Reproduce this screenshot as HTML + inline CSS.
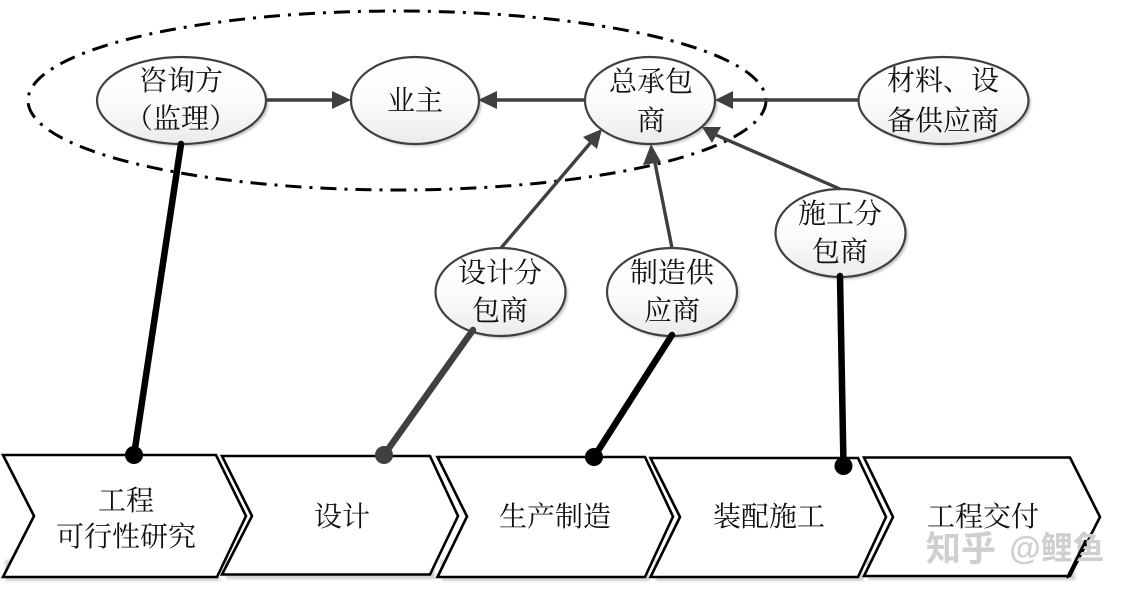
<!DOCTYPE html>
<html>
<head>
<meta charset="utf-8">
<style>
html,body{margin:0;padding:0;background:#fff;width:1133px;height:595px;overflow:hidden}
svg{display:block}
text{font-family:"Liberation Serif","Noto Serif CJK SC",serif;font-size:28px;fill:#111;text-anchor:middle}
</style>
</head>
<body>
<svg width="1133" height="595" viewBox="0 0 1133 595" xmlns="http://www.w3.org/2000/svg">
<defs>
<linearGradient id="g" x1="0" y1="0" x2="0" y2="1">
<stop offset="0" stop-color="#ffffff"/>
<stop offset="0.5" stop-color="#fcfcfc"/>
<stop offset="1" stop-color="#ebebeb"/>
</linearGradient>
<filter id="b" x="-10%" y="-10%" width="120%" height="120%"><feGaussianBlur stdDeviation="1"/></filter>
</defs>
<rect width="1133" height="595" fill="#fff"/>

<!-- chevron shadows -->
<g fill="#d2d2d2" filter="url(#b)">
<polygon points="5,560 217,560 220,581 6,581"/>
<polygon points="224,560 432,560 436,579 226,579"/>
<polygon points="440,560 646,560 650,581 442,581"/>
<polygon points="654,560 860,560 864,581 656,581"/>
<polygon points="866,560 1072,560 1076,580 868,580"/>
</g>

<!-- chevrons -->
<g fill="#fff" stroke="#000" stroke-width="2.6" stroke-linejoin="miter">
<polygon points="864,457.5 1070,457.5 1100,517 1070,576 864,576 893,517"/>
<polygon points="650.5,458 858,458 886,517 858,577 650.5,577 680,517"/>
<polygon points="437.5,457 645,457 673,516.5 645,577 437.5,577 467,516.5"/>
<polygon points="222,456 430,456 458,516 430,574.5 222,574.5 252,516"/>
<polygon points="3,455 216,455 246,516 217,577 3,577 34,516"/>
</g>

<!-- watermark -->
<text x="961" y="561" style="font-family:'Liberation Sans','Noto Sans CJK SC',sans-serif;font-size:35px;font-weight:700;fill:#cfcfcf">知乎</text>
<text x="1057" y="559" style="font-family:'Liberation Sans','Noto Sans CJK SC',sans-serif;font-size:32px;font-weight:700;fill:#cfcfcf">@鲤鱼</text>
<line x1="1086" y1="540" x2="1067" y2="578" stroke="#000" stroke-width="2.6"/>

<!-- node shadows -->
<g fill="#c8c8c8" filter="url(#b)">
<ellipse cx="184" cy="103" rx="84.5" ry="43.5"/>
<ellipse cx="417.5" cy="103" rx="64" ry="43.5"/>
<ellipse cx="652.5" cy="103" rx="65" ry="43.5"/>
<ellipse cx="946" cy="103" rx="85" ry="43.5"/>
<ellipse cx="843" cy="235.5" rx="65" ry="44"/>
<ellipse cx="503" cy="294.5" rx="65" ry="44"/>
<ellipse cx="674.5" cy="294.5" rx="65" ry="44"/>
</g>

<!-- nodes -->
<g fill="url(#g)" stroke="#404040" stroke-width="2.2">
<ellipse cx="181.5" cy="100.5" rx="84.5" ry="43.5"/>
<ellipse cx="415" cy="100.5" rx="64" ry="43.5"/>
<ellipse cx="650" cy="100.5" rx="65" ry="43.5"/>
<ellipse cx="943.5" cy="100.5" rx="85" ry="43.5"/>
<ellipse cx="840.5" cy="233" rx="65" ry="44"/>
<ellipse cx="500.5" cy="292" rx="65" ry="44"/>
<ellipse cx="672" cy="292" rx="65" ry="44"/>
</g>

<!-- big dash-dot ellipse -->
<ellipse cx="397" cy="100.5" rx="369" ry="89.5" fill="none" stroke="#000" stroke-width="3" stroke-dasharray="16 8 3 8"/>

<!-- thin arrows -->
<g stroke="#404040" stroke-width="3.4" fill="none">
<line x1="266" y1="100" x2="336" y2="100"/>
<line x1="585" y1="100" x2="494" y2="100"/>
<line x1="858" y1="100" x2="730" y2="100"/>
<line x1="501" y1="248" x2="592" y2="141"/>
<line x1="672" y1="248" x2="654" y2="158"/>
<line x1="840" y1="189" x2="716" y2="135"/>
</g>
<g fill="#404040">
<polygon points="351,100 332,91 332,109"/>
<polygon points="478,100 497,91 497,109"/>
<polygon points="715,100 733,91 733,109"/>
<polygon points="602,129 597,149 583,137"/>
<polygon points="651,144 661,162 643,165"/>
<polygon points="702,127 721,127 712,143"/>
</g>

<!-- thick connectors -->
<g stroke-linecap="round" stroke-width="6.5" fill="none">
<line x1="181" y1="144" x2="134" y2="455" stroke="#000"/>
<line x1="473" y1="330" x2="384" y2="455" stroke="#404040"/>
<line x1="672" y1="335" x2="594" y2="457" stroke="#000"/>
<line x1="840" y1="276" x2="843.5" y2="466" stroke="#000"/>
</g>
<circle cx="134" cy="455" r="9" fill="#000"/>
<circle cx="384" cy="455" r="9" fill="#404040"/>
<circle cx="594" cy="457" r="9" fill="#000"/>
<circle cx="843.5" cy="466" r="9" fill="#000"/>

<!-- node labels -->
<text x="181" y="90">咨询方</text>
<text x="181" y="128">（监理）</text>
<text x="415" y="110">业主</text>
<text x="651" y="91">总承包</text>
<text x="651" y="130">商</text>
<text x="943" y="90">材料、设</text>
<text x="943" y="130">备供应商</text>
<text x="840" y="223">施工分</text>
<text x="840" y="261">包商</text>
<text x="500" y="282">设计分</text>
<text x="500" y="320">包商</text>
<text x="672" y="282">制造供</text>
<text x="672" y="320">应商</text>

<!-- chevron labels -->
<text x="126" y="510">工程</text>
<text x="126" y="546">可行性研究</text>
<text x="342" y="526">设计</text>
<text x="555" y="526">生产制造</text>
<text x="769" y="526">装配施工</text>
<text x="983" y="526">工程交付</text>
</svg>
</body>
</html>
